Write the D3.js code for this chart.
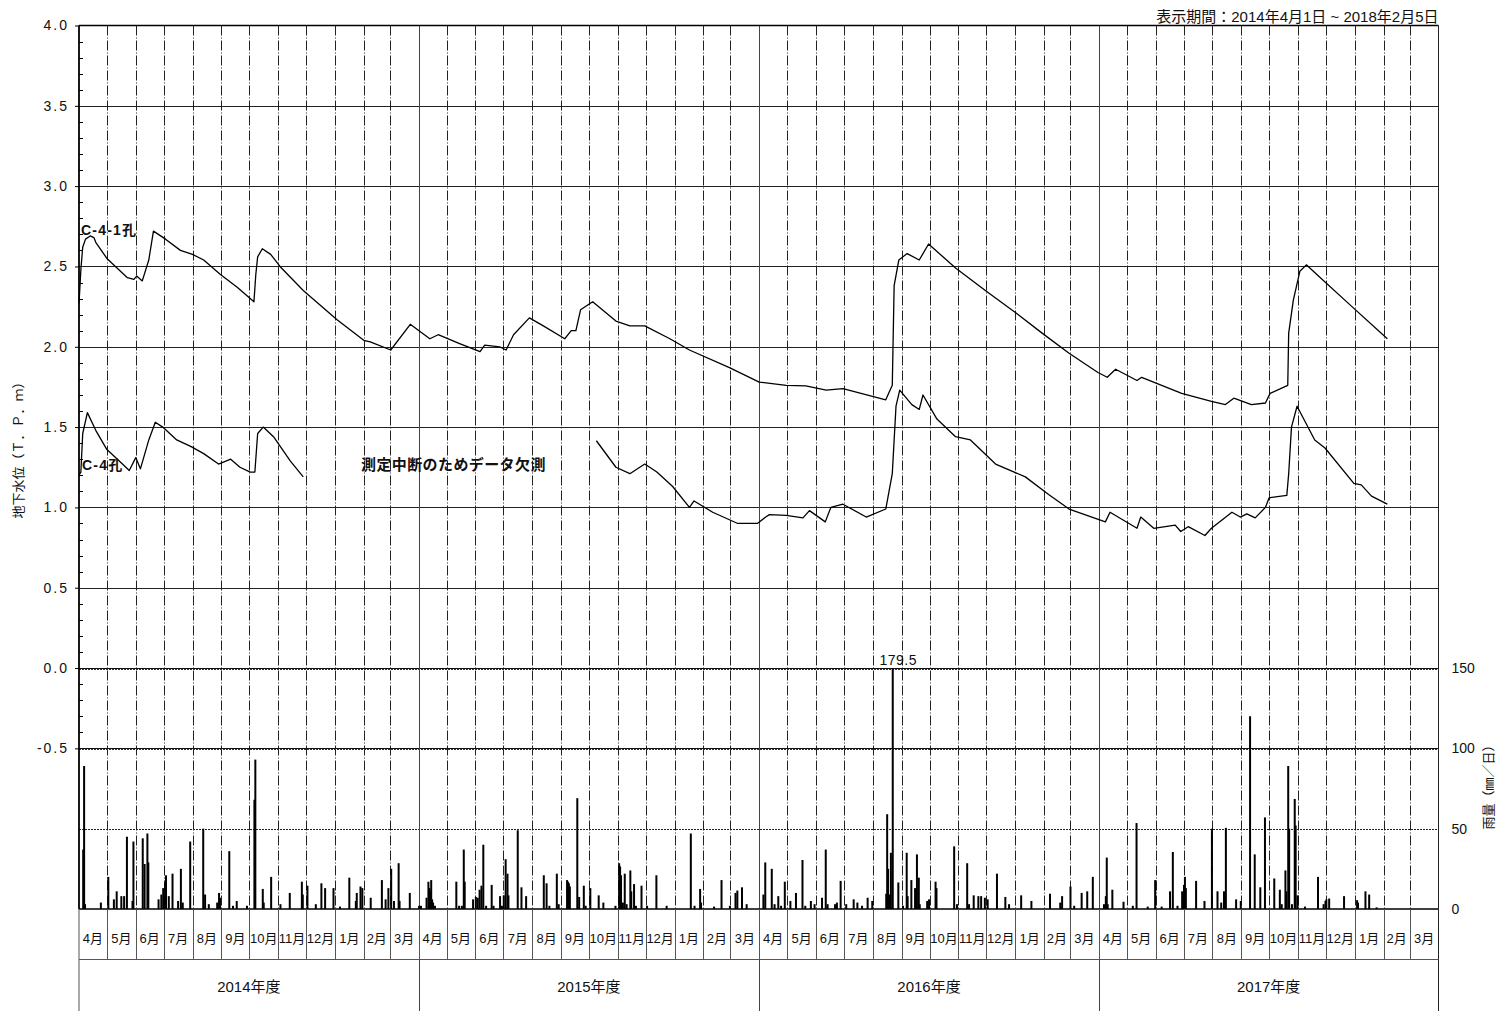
<!DOCTYPE html>
<html>
<head>
<meta charset="utf-8">
<script src="https://cdn.jsdelivr.net/npm/d3@7"></script>
<style>
  body { margin: 0; background: #fff; }
  svg { display: block; }
  text { font-family: "Liberation Sans", Arial, "Noto Sans CJK JP", sans-serif; fill: #111; }
</style>
</head>
<body>
<svg id="chart" width="1503" height="1011"></svg>
<script>
// ---- data -------------------------------------------------------------
const periodStart = "2014-04-01";
const periodEnd = "2018-04-01";
const periodLabel = "表示期間：2014年4月1日 ~ 2018年2月5日";

const levelTicks = [4.0, 3.5, 3.0, 2.5, 2.0, 1.5, 1.0, 0.5, 0.0, -0.5];
const rainTicks = [0, 50, 100, 150];
const monthLabels = ["4月","5月","6月","7月","8月","9月","10月","11月","12月","1月","2月","3月"];
const fiscalYears = ["2014年度", "2015年度", "2016年度", "2017年度"];

// groundwater level, T.P.m
const wellC41 = [
  ["2014-04-01",2.27],["2014-04-03",2.48],["2014-04-05",2.62],["2014-04-08",2.67],["2014-04-13",2.69],
  ["2014-04-17",2.68],["2014-04-19",2.65],["2014-05-01",2.55],["2014-05-23",2.43],["2014-05-30",2.42],
  ["2014-06-02",2.44],["2014-06-08",2.41],["2014-06-15",2.54],["2014-06-20",2.72],["2014-07-03",2.67],
  ["2014-07-19",2.60],["2014-08-01",2.575],["2014-08-13",2.54],["2014-08-31",2.45],["2014-09-18",2.37],
  ["2014-10-06",2.28],["2014-10-08",2.45],["2014-10-10",2.56],["2014-10-15",2.61],["2014-10-24",2.575],
  ["2014-11-03",2.50],["2014-11-28",2.35],["2015-01-03",2.17],["2015-02-01",2.04],["2015-02-08",2.03],
  ["2015-03-02",1.98],["2015-03-23",2.14],["2015-04-13",2.05],["2015-04-22",2.075],["2015-05-15",2.02],
  ["2015-06-06",1.97],["2015-06-11",2.01],["2015-06-27",2.00],["2015-07-04",1.98],["2015-07-12",2.075],
  ["2015-07-29",2.18],["2015-08-13",2.13],["2015-09-05",2.05],["2015-09-12",2.10],["2015-09-17",2.10],
  ["2015-09-22",2.23],["2015-10-05",2.28],["2015-10-30",2.16],["2015-11-14",2.13],["2015-11-30",2.13],
  ["2015-12-27",2.05],["2016-01-17",1.98],["2016-02-29",1.87],["2016-04-01",1.78],["2016-04-30",1.76],
  ["2016-05-21",1.756],["2016-06-12",1.73],["2016-06-30",1.74],["2016-08-15",1.67],["2016-08-22",1.76],
  ["2016-08-24",2.38],["2016-08-29",2.54],["2016-09-07",2.58],["2016-09-20",2.54],["2016-09-30",2.64],
  ["2016-10-29",2.49],["2016-11-30",2.35],["2017-01-02",2.21],["2017-01-30",2.085],["2017-02-28",1.96],
  ["2017-03-31",1.84],["2017-04-10",1.81],["2017-04-19",1.86],["2017-05-12",1.79],["2017-05-17",1.81],
  ["2017-06-29",1.71],["2017-07-31",1.66],["2017-08-15",1.64],["2017-08-24",1.68],["2017-09-12",1.64],
  ["2017-09-27",1.65],["2017-10-02",1.71],["2017-10-21",1.76],["2017-10-22",2.085],["2017-10-27",2.29],
  ["2017-11-03",2.47],["2017-11-10",2.51],["2017-11-23",2.44],["2017-12-29",2.25],["2018-02-05",2.05]
];

const wellC4 = [
  ["2014-04-01",1.20],["2014-04-03",1.22],["2014-04-05",1.46],["2014-04-10",1.59],["2014-04-19",1.48],
  ["2014-05-01",1.36],["2014-05-16",1.28],["2014-05-25",1.23],["2014-06-01",1.31],["2014-06-06",1.24],
  ["2014-06-15",1.42],["2014-06-22",1.53],["2014-06-30",1.50],["2014-07-15",1.42],["2014-07-30",1.38],
  ["2014-08-13",1.335],["2014-08-29",1.27],["2014-09-11",1.30],["2014-09-21",1.25],["2014-10-02",1.22],
  ["2014-10-07",1.22],["2014-10-10",1.46],["2014-10-16",1.50],["2014-10-27",1.44],["2014-11-14",1.29],
  ["2014-11-28",1.19],
  ["2015-04-01",null],
  ["2015-10-09",1.415],["2015-10-30",1.25],["2015-11-14",1.21],["2015-11-30",1.27],["2015-12-13",1.22],
  ["2015-12-30",1.13],["2016-01-17",1.00],["2016-01-22",1.04],["2016-02-11",0.97],["2016-03-09",0.90],
  ["2016-03-30",0.90],["2016-04-08",0.94],["2016-04-12",0.955],["2016-04-30",0.95],["2016-05-18",0.935],
  ["2016-05-25",0.98],["2016-06-11",0.91],["2016-06-17",1.00],["2016-06-30",1.02],["2016-07-25",0.94],
  ["2016-08-15",0.99],["2016-08-22",1.21],["2016-08-26",1.63],["2016-08-30",1.73],["2016-09-12",1.64],
  ["2016-09-20",1.61],["2016-09-24",1.70],["2016-10-09",1.55],["2016-10-29",1.44],["2016-11-14",1.42],
  ["2016-12-11",1.27],["2017-01-12",1.19],["2017-02-06",1.08],["2017-02-28",0.99],["2017-04-08",0.91],
  ["2017-04-13",0.97],["2017-05-12",0.87],["2017-05-16",0.94],["2017-05-30",0.87],["2017-06-22",0.89],
  ["2017-06-28",0.85],["2017-07-06",0.88],["2017-07-24",0.825],["2017-07-31",0.87],["2017-08-22",0.97],
  ["2017-08-31",0.94],["2017-09-07",0.96],["2017-09-16",0.935],["2017-09-27",1.00],["2017-10-01",1.06],
  ["2017-10-20",1.075],["2017-10-22",1.21],["2017-10-25",1.50],["2017-10-31",1.63],["2017-11-19",1.42],
  ["2017-11-30",1.37],["2017-12-31",1.15],["2018-01-08",1.14],["2018-01-19",1.07],["2018-02-05",1.02]
];

// daily rainfall, mm/day
const rainfall = [
  ["2014-04-05",37],["2014-04-06",89],["2014-04-07",3],["2014-04-24",4],["2014-05-02",20],["2014-05-08",6],
  ["2014-05-11",11],["2014-05-16",8],["2014-05-19",8],["2014-05-22",45],["2014-05-28",5],["2014-05-29",42],
  ["2014-06-08",44],["2014-06-10",28],["2014-06-13",47],["2014-06-14",29],["2014-06-25",6],["2014-06-28",9],
  ["2014-06-30",13],["2014-07-02",16],["2014-07-03",21],["2014-07-06",8],["2014-07-10",22],["2014-07-16",5],
  ["2014-07-19",25],["2014-07-21",4],["2014-07-29",42],["2014-08-12",50],["2014-08-14",9],["2014-08-18",3],
  ["2014-08-27",4],["2014-08-29",10],["2014-08-30",7],["2014-09-09",36],["2014-09-13",2],["2014-09-17",5],
  ["2014-09-28",2],["2014-10-06",68],["2014-10-07",93],["2014-10-15",12.5],["2014-10-16",4],["2014-10-24",20],
  ["2014-11-03",3],["2014-11-13",10],["2014-11-26",17],["2014-11-27",9],["2014-12-02",14.5],["2014-12-11",3],
  ["2014-12-17",16],["2014-12-21",13],["2014-12-30",13],["2015-01-06",1.5],["2015-01-16",19.5],["2015-01-23",5],
  ["2015-01-24",10],["2015-01-28",14],["2015-01-30",13],["2015-02-08",7],["2015-02-20",18],["2015-02-24",6],
  ["2015-02-27",13],["2015-03-02",25],["2015-03-05",5],["2015-03-10",28.5],["2015-03-11",5],["2015-03-22",10],
  ["2015-04-01",2],["2015-04-03",2],["2015-04-09",7],["2015-04-11",17],["2015-04-12",13],["2015-04-13",11],
  ["2015-04-14",18],["2015-04-15",6],["2015-04-16",4],["2015-04-18",2],["2015-05-11",17],["2015-05-14",2],
  ["2015-05-17",2],["2015-05-19",37],["2015-05-20",17],["2015-05-29",6],["2015-06-01",7.5],["2015-06-03",7],
  ["2015-06-05",12],["2015-06-07",14.5],["2015-06-09",40],["2015-06-12",2],["2015-06-18",15],["2015-06-20",2],
  ["2015-06-27",8],["2015-06-29",2],["2015-07-01",8.5],["2015-07-03",31],["2015-07-05",22],["2015-07-06",8.5],
  ["2015-07-16",49],["2015-07-20",13.5],["2015-07-25",8],["2015-08-13",21],["2015-08-16",16],["2015-08-19",2],
  ["2015-08-27",22],["2015-08-29",3],["2015-09-07",18],["2015-09-08",17],["2015-09-09",16],["2015-09-10",14],
  ["2015-09-18",69],["2015-09-20",7.5],["2015-09-25",14.5],["2015-09-27",2],["2015-10-02",13],["2015-10-11",8.5],
  ["2015-10-16",4],["2015-10-29",2],["2015-11-02",28.5],["2015-11-03",26.5],["2015-11-04",21],["2015-11-06",4],
  ["2015-11-08",22],["2015-11-10",3],["2015-11-14",24],["2015-11-15",11],["2015-11-18",15.5],["2015-11-20",2],
  ["2015-11-26",14.5],["2015-12-02",2],["2015-12-12",21],["2015-12-23",2],["2016-01-18",47],["2016-01-22",2],
  ["2016-01-28",12.5],["2016-01-29",4],["2016-02-12",1.5],["2016-02-20",18],["2016-02-29",2],["2016-03-06",10],
  ["2016-03-08",11.5],["2016-03-13",13.5],["2016-03-18",3],
  ["2016-04-05",9],["2016-04-07",29],["2016-04-14",25],["2016-04-17",3],["2016-04-21",8],["2016-04-24",2],
  ["2016-04-28",17],["2016-05-04",5],["2016-05-10",10],["2016-05-17",30.5],["2016-05-20",2],["2016-05-26",5],
  ["2016-05-30",3],["2016-06-07",7],["2016-06-11",37],["2016-06-13",3],["2016-06-21",3],["2016-06-23",4],
  ["2016-06-27",17.5],["2016-07-03",3],["2016-07-11",6],["2016-07-15",4],["2016-07-20",2],["2016-07-26",7],
  ["2016-07-31",5],["2016-08-15",9.5],["2016-08-16",59],["2016-08-17",25],["2016-08-18",9],["2016-08-20",35],
  ["2016-08-22",179.5],["2016-08-28",16.5],["2016-09-02",2],["2016-09-06",35],["2016-09-07",8],["2016-09-11",18],
  ["2016-09-15",13],["2016-09-17",34],["2016-09-19",19.5],["2016-09-20",3],["2016-09-28",5],["2016-09-30",6],
  ["2016-10-07",17],["2016-10-08",13],["2016-10-27",39],["2016-10-30",3],["2016-11-10",28.5],["2016-11-12",3],
  ["2016-11-17",8.5],["2016-11-22",8],["2016-11-25",8],["2016-11-29",7],["2016-12-02",6],["2016-12-12",22],
  ["2016-12-21",7.5],["2016-12-25",3],["2017-01-07",8.5],["2017-01-18",5],["2017-02-07",9.5],["2017-02-18",4],
  ["2017-02-20",8],["2017-03-01",14],["2017-03-05",2],["2017-03-13",10],["2017-03-19",11],["2017-03-25",20],
  ["2017-04-06",3],["2017-04-08",8],["2017-04-09",32],["2017-04-10",3],["2017-04-15",12],["2017-04-27",4.5],
  ["2017-05-07",2],["2017-05-11",53.5],["2017-05-23",1.5],["2017-05-31",18],["2017-06-07",1.5],["2017-06-16",11],
  ["2017-06-19",35.5],["2017-06-24",2],["2017-06-29",11],["2017-07-01",15],["2017-07-02",20],["2017-07-03",13],
  ["2017-07-14",17.5],["2017-07-23",5],["2017-07-31",50],["2017-08-06",11],["2017-08-10",4],["2017-08-13",11],
  ["2017-08-15",50.5],["2017-08-26",6],["2017-08-31",5],["2017-09-10",120],["2017-09-15",34],["2017-09-21",13.5],
  ["2017-09-26",57],["2017-10-06",19],["2017-10-12",12],["2017-10-14",3],["2017-10-18",24],["2017-10-19",11],
  ["2017-10-21",89],["2017-10-22",50],["2017-10-25",3],["2017-10-28",68.5],["2017-10-29",52],["2017-10-31",8.5],
  ["2017-11-08",1.5],["2017-11-22",20],["2017-11-28",3],["2017-11-30",5],["2017-12-01",6],["2017-12-04",6.5],
  ["2017-12-20",8],["2018-01-03",5.5],["2018-01-04",4],["2018-01-12",11],["2018-01-16",9],["2018-01-24",1]
];

// ---- layout -----------------------------------------------------------
const plot = { left: 79, right: 1438.5, top: 25.5, bottom: 909 };
const monthRowBottom = 959;
const pageBottom = 1011;
const parse = d3.utcParse("%Y-%m-%d");
const svg = d3.select("#chart");

const x = d3.scaleUtc()
  .domain([parse(periodStart), parse(periodEnd)])
  .range([plot.left, plot.right]);
const y = d3.scaleLinear().domain([-1.5, 4.0]).range([plot.bottom, plot.top]);
const yRain = d3.scaleLinear().domain([0, 150]).range([plot.bottom, y(0)]);
const crisp = v => Math.round(v) + 0.5;

// ---- grid -------------------------------------------------------------
const grid = svg.append("g");
const months = d3.utcMonth.range(parse(periodStart), parse(periodEnd));
const boundaries = months.slice(1);

// monthly dash-dot lines
grid.selectAll("line.month")
  .data(boundaries.filter(d => d.getUTCMonth() !== 3))
  .join("line")
  .attr("x1", d => crisp(x(d))).attr("x2", d => crisp(x(d)))
  .attr("y1", plot.top).attr("y2", plot.bottom)
  .attr("stroke", "#222").attr("stroke-width", 1)
  .attr("stroke-dasharray", "10,2,1,2");

// horizontal level lines
grid.selectAll("line.level")
  .data(levelTicks.filter(v => v < 4 && v > 0))
  .join("line")
  .attr("x1", plot.left).attr("x2", plot.right)
  .attr("y1", d => crisp(y(d))).attr("y2", d => crisp(y(d)))
  .attr("stroke", "#222").attr("stroke-width", 1);

// rainfall scale lines (shared with 0.0 / -0.5)
[150, 100].forEach(v => {
  grid.append("line")
    .attr("x1", plot.left).attr("x2", plot.right)
    .attr("y1", crisp(yRain(v))).attr("y2", crisp(yRain(v)))
    .attr("stroke", "#111").attr("stroke-width", 1);
  grid.append("line")
    .attr("x1", plot.left).attr("x2", plot.right)
    .attr("y1", crisp(yRain(v)) + 1).attr("y2", crisp(yRain(v)) + 1)
    .attr("stroke", "#333").attr("stroke-width", 1).attr("stroke-dasharray", "2,1");
});
grid.append("line")
  .attr("x1", plot.left).attr("x2", plot.right)
  .attr("y1", crisp(yRain(50))).attr("y2", crisp(yRain(50)))
  .attr("stroke", "#222").attr("stroke-width", 1).attr("stroke-dasharray", "2,1");

// fiscal year lines run through the label rows
grid.selectAll("line.year")
  .data(boundaries.filter(d => d.getUTCMonth() === 3))
  .join("line")
  .attr("x1", d => crisp(x(d))).attr("x2", d => crisp(x(d)))
  .attr("y1", plot.top).attr("y2", pageBottom)
  .attr("stroke", "#444").attr("stroke-width", 1);

// ---- rainfall bars ----------------------------------------------------
const dayW = x(parse("2014-04-02")) - x(parse("2014-04-01"));
svg.append("g")
  .selectAll("rect")
  .data(rainfall)
  .join("rect")
  .attr("x", d => x(parse(d[0])) + dayW / 2 - 1)
  .attr("width", 2)
  .attr("y", d => yRain(Math.min(d[1], 150)))
  .attr("height", d => plot.bottom - yRain(Math.min(d[1], 150)))
  .attr("fill", "#000");

// value of the off-scale day
const peak = rainfall.reduce((a, b) => (b[1] > a[1] ? b : a));
svg.append("text")
  .attr("x", x(parse(peak[0])) + 6).attr("y", yRain(150) - 3)
  .attr("text-anchor", "middle").attr("font-size", 14).attr("letter-spacing", 0.5)
  .text(d3.format(".1f")(peak[1]));

// ---- water level lines ------------------------------------------------
const line = d3.line()
  .defined(d => d[1] !== null)
  .x(d => x(parse(d[0])))
  .y(d => y(d[1]));
[wellC41, wellC4].forEach(series => {
  svg.append("path")
    .attr("d", line(series))
    .attr("fill", "none").attr("stroke", "#000").attr("stroke-width", 1.3)
    .attr("stroke-linejoin", "round");
});

// ---- frame ------------------------------------------------------------
const frame = svg.append("g");
frame.append("line").attr("x1", plot.left).attr("x2", plot.right)
  .attr("y1", plot.top).attr("y2", plot.top).attr("stroke", "#000").attr("stroke-width", 1.5);
frame.append("line").attr("x1", plot.left).attr("x2", plot.right)
  .attr("y1", plot.bottom).attr("y2", plot.bottom).attr("stroke", "#000").attr("stroke-width", 1.5);
frame.append("line").attr("x1", plot.left).attr("x2", plot.left)
  .attr("y1", plot.top).attr("y2", plot.bottom).attr("stroke", "#000").attr("stroke-width", 1.8);
frame.append("line").attr("x1", plot.left).attr("x2", plot.left)
  .attr("y1", plot.bottom).attr("y2", pageBottom).attr("stroke", "#555").attr("stroke-width", 1);
frame.append("line").attr("x1", plot.right).attr("x2", plot.right)
  .attr("y1", plot.top).attr("y2", pageBottom).attr("stroke", "#222").attr("stroke-width", 1);

// ---- left axis --------------------------------------------------------
const levelFormat = v => d3.format(".1f")(v).replace("\u2212", "-");
const leftAxis = svg.append("g")
  .attr("transform", `translate(${plot.left},0)`)
  .call(d3.axisLeft(y).tickValues(levelTicks).tickFormat(levelFormat).tickSize(4).tickPadding(6));
leftAxis.select(".domain").remove();
leftAxis.selectAll("line").attr("stroke", "#000");
leftAxis.selectAll("text")
  .attr("font-size", 14).attr("letter-spacing", 2)
  .style("font-family", '"Liberation Sans", Arial, sans-serif').attr("fill", "#111");

// minor ticks every 0.1, pointing inward
const minor = d3.range(-5, 41).map(i => i / 10)
  .filter(v => !levelTicks.some(t => Math.abs(t - v) < 1e-9));
svg.append("g").selectAll("line")
  .data(minor)
  .join("line")
  .attr("x1", plot.left).attr("x2", plot.left + 4)
  .attr("y1", d => crisp(y(d))).attr("y2", d => crisp(y(d)))
  .attr("stroke", "#000");

// ---- right axis -------------------------------------------------------
const rightAxis = svg.append("g")
  .attr("transform", `translate(${plot.right},0)`)
  .call(d3.axisRight(yRain).tickValues(rainTicks).tickFormat(d3.format("d")).tickSize(0).tickPadding(13));
rightAxis.select(".domain").remove();
rightAxis.selectAll("text")
  .attr("font-size", 14)
  .style("font-family", '"Liberation Sans", Arial, sans-serif').attr("fill", "#111");

// ---- axis titles ------------------------------------------------------
svg.append("text")
  .attr("transform", "translate(18,447) rotate(-90)")
  .attr("text-anchor", "middle").attr("dy", "0.35em").attr("font-size", 13)
  .text("地下水位（Ｔ．Ｐ．ｍ）");
svg.append("text")
  .attr("transform", "translate(1488,784) rotate(-90)")
  .attr("text-anchor", "middle").attr("dy", "0.35em").attr("font-size", 13)
  .text("雨量（㎜／日）");

svg.append("text")
  .attr("x", plot.right).attr("y", 22)
  .attr("text-anchor", "end").attr("font-size", 15)
  .text(periodLabel);

// ---- series labels ----------------------------------------------------
svg.append("text").attr("x", 81).attr("y", 235)
  .attr("font-size", 14).attr("font-weight", "bold").attr("letter-spacing", 1.2)
  .text("C-4-1孔");
svg.append("text").attr("x", 82).attr("y", 470)
  .attr("font-size", 14).attr("font-weight", "bold").attr("letter-spacing", 1.2)
  .text("C-4孔");
svg.append("text").attr("x", 361).attr("y", 470)
  .attr("font-size", 15).attr("font-weight", "bold").attr("letter-spacing", 0.4)
  .text("測定中断のためデータ欠測");

// ---- month / fiscal-year rows ----------------------------------------
const rows = svg.append("g");
rows.append("line")
  .attr("x1", plot.left).attr("x2", plot.right)
  .attr("y1", monthRowBottom + 0.5).attr("y2", monthRowBottom + 0.5)
  .attr("stroke", "#555");
rows.selectAll("line.sep")
  .data(boundaries)
  .join("line")
  .attr("x1", d => crisp(x(d))).attr("x2", d => crisp(x(d)))
  .attr("y1", plot.bottom).attr("y2", monthRowBottom)
  .attr("stroke", "#555");
rows.selectAll("text.month")
  .data(months)
  .join("text")
  .attr("x", d => (x(d) + x(d3.utcMonth.offset(d, 1))) / 2)
  .attr("y", 942.5)
  .attr("text-anchor", "middle").attr("font-size", 13)
  .text(d => monthLabels[(d.getUTCMonth() + 9) % 12]);
rows.selectAll("text.year")
  .data(fiscalYears)
  .join("text")
  .attr("x", (d, i) => {
    const s = d3.utcYear.offset(parse(periodStart), i);
    return (x(s) + x(d3.utcYear.offset(s, 1))) / 2;
  })
  .attr("y", 992)
  .attr("text-anchor", "middle").attr("font-size", 15)
  .text(d => d);
</script>
</body>
</html>
